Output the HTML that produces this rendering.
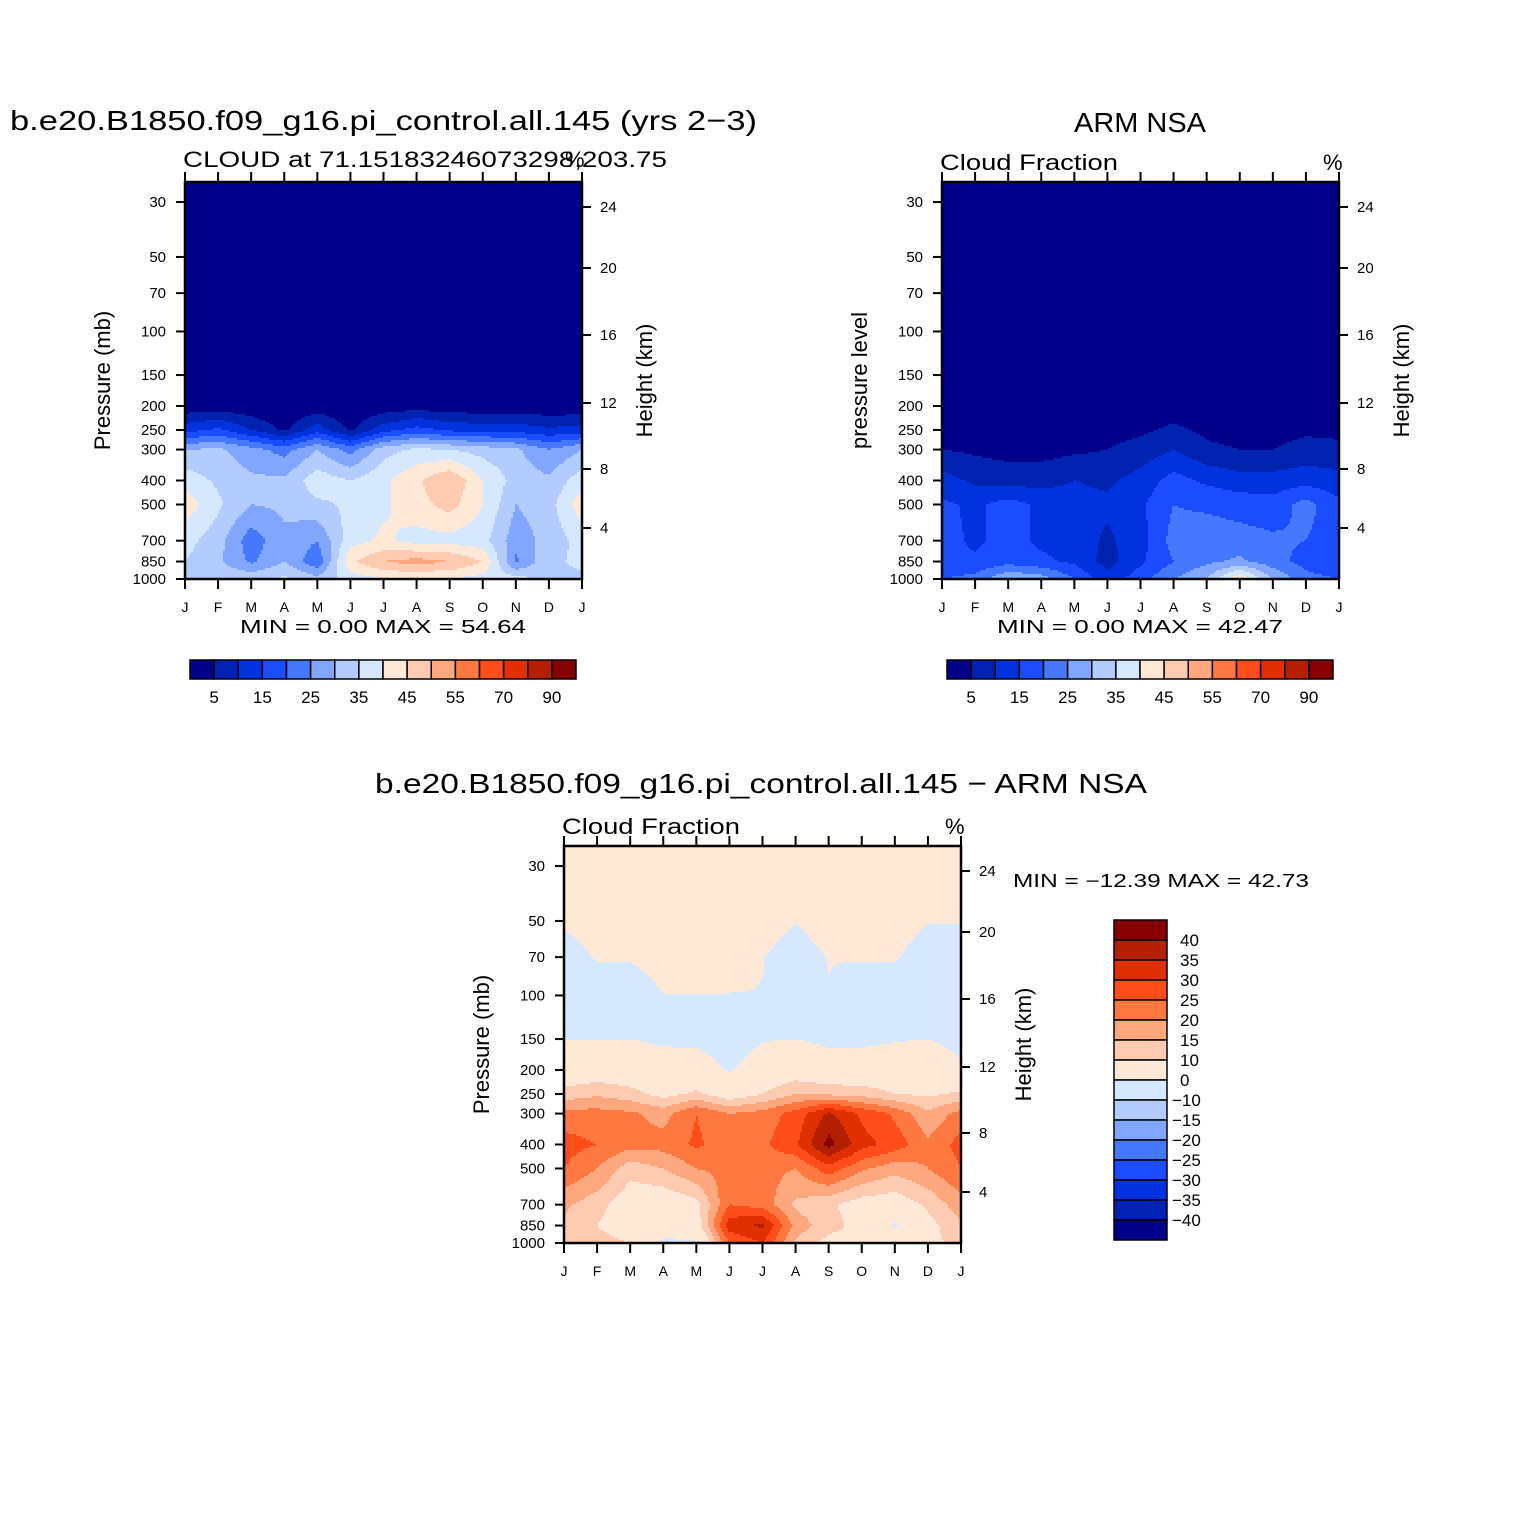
<!DOCTYPE html>
<html><head><meta charset="utf-8"><style>
html,body{margin:0;padding:0;background:#fff;}
svg text{font-family:"Liberation Sans",sans-serif;fill:#000;}
</style></head><body>
<svg id="fig" width="1524" height="1524" viewBox="0 0 1524 1524" xmlns="http://www.w3.org/2000/svg">
<rect x="0" y="0" width="1524" height="1524" fill="#fff"/>
<g id="p1"></g>
<g id="p2"></g>
<g id="p3"></g>
<g id="txt"></g>
</svg>
<script>
const months = ["J","F","M","A","M","J","J","A","S","O","N","D","J"];
const pressureLevels = [24,30,50,70,100,150,200,250,300,400,500,700,850,1000];
const pressureTicks = [30,50,70,100,150,200,250,300,400,500,700,850,1000];
const heightTicks = [24,20,16,12,8,4];
const heightTickY = [207,268,335,403,469,528];
const colors = ["#00008a","#0022b0","#0033dd","#1a4dff","#4677ff","#80a6ff","#b3ccff","#d6e8ff","#ffe9d6","#ffcbb0","#ffa880","#ff7840","#ff4e1a","#e03000","#b32000","#870000"];
const levelsAbs = [5,10,15,20,25,30,35,40,45,50,55,60,70,80,90];
const levelsDiff = [-40,-35,-30,-25,-20,-15,-10,0,10,15,20,25,30,35,40];
const absBarLabels = [5,15,25,35,45,55,70,90];
const diffBarLabels = ["40","35","30","25","20","15","10","0","\u221210","\u221215","\u221220","\u221225","\u221230","\u221235","\u221240"];

// model cloud fraction (%), rows follow pressureLevels, columns follow months
const modelCloud = [
 [0.5,0.5,0.5,0.5,0.5,0.5,0.5,0.5,0.5,0.5,0.5,0.5,0.5],
 [0.5,0.5,0.5,0.5,0.5,0.5,0.5,0.5,0.5,0.5,0.5,0.5,0.5],
 [0.5,0.5,0.5,0.5,0.5,0.5,0.5,0.5,0.5,0.5,0.5,0.5,0.5],
 [0.5,0.5,0.5,0.5,0.5,0.5,0.5,0.5,0.5,0.5,0.5,0.5,0.5],
 [0.5,0.5,0.5,0.5,0.5,0.5,0.5,0.5,0.5,0.5,0.5,0.5,0.5],
 [0.8,0.8,0.8,0.8,0.8,0.8,0.8,0.8,0.8,0.8,0.8,0.8,0.8],
 [1.5,2,1,0.5,1.5,0.5,1.5,2.5,1.5,1.5,1.5,1,1.2],
 [13,16,10,4,13,4,13,17,14,13,13,11,12],
 [30,31,27,23,30,23,33,36,35,33,31,25,30],
 [38,34,31,31,38,35,39,44,50,40,33,31,38],
 [43,36,30,31,34,36,39,43,47,40,30,33,43],
 [37,32,22,29,25,38,41,38,38,37,27,32,37],
 [35,31,24,30,21,44,50,52,50,45,24,34,36],
 [34,34,34,36,32,37,40,40,40,38,37,34,34]
];
// ARM NSA observed cloud fraction (%)
const obsCloud = [
 [1,1,1,1,1,1,1,1,1,1,1,1,1],
 [1,1,1,1,1,1,1,1,1,1,1,1,1],
 [1,1,1,1,1,1,1,1,1,1,1,1,1],
 [1,1,1,1,1,1,1,1,1,1,1,1,1],
 [1,1,1,1,1,1,1,1,1,1,1,1,1],
 [1,1,1,1,1,1,1,1,1,1,1,1,1],
 [1.5,1.5,1.5,1.5,1.5,1.5,2,2.5,2,1.5,1.5,2,2],
 [3,2,2,2,2,3,4,6,4,3,3,4,4],
 [5,4,3,3,4,5,7,10,6,5,5,7,6],
 [12,9,8,8,10,9,12,17,14,12,12,13,12],
 [16,14,17,14,12,11,14,20,19,18,17,22,16],
 [17,14,17,14,13,9,13,22,23,22,21,20,17],
 [15,16,18,16,14,8,14,20,24,26,22,18,15],
 [20,22,30,28,20,12,18,25,30,45,30,22,20]
];
// model minus obs difference (%)
const diffCloud = [
 [3,3,3,3,3,3,3,3,3,3,3,3,3],
 [3,3,3,3,3,3,3,3,3,3,3,3,3],
 [1,3,3,4,4,4,3,0.2,3,3,3,0.2,0.2],
 [-3,0.5,0.5,3,3,3,0.2,-3,0.2,0.5,0.5,-3,-3],
 [-4,-4,-4,-0.2,-0.2,-0.2,-0.2,-0.5,-0.2,-4,-4,-4,-4],
 [0,0,0,-1,-1.5,-4,-0.5,0,-1.5,-1.5,-0.5,0,-2],
 [5,6,5,3,4,-0.5,4,6,4,4,4,5,1],
 [12,14,12,8,11,6,10,15,14,13,10,9,11],
 [22,22,21,18,25,20,22,27,36,29,24,16,22],
 [27,25,22,22,26,22,24,29,42,32,28,21,27],
 [25,20,12,15,20,22,22,20,28,21,17,20,25],
 [16,12,6,5,8,25,23,14,11,7,6,11,18],
 [14,10,6,5,6,33,36,18,12,8,-1,8,14],
 [12,12,10,-2,-1,25,30,14,8,8,8,8,12]
];

const NS="http://www.w3.org/2000/svg";
function el(tag, attrs, parent){const e=document.createElementNS(NS,tag);for(const k in attrs)e.setAttribute(k,attrs[k]);parent.appendChild(e);return e;}
const PW=397, PH=397, LOGK=107.5;
function yOfP(y0,p){return y0+PH-LOGK*Math.log(1000/p);}
function xOfM(x0,m){return x0+m*PW/12;}
function colorIdx(v,lv){let i=0;while(i<lv.length&&v>=lv[i])i++;return i;}
function sample(data,m,p){
  const lp=Math.log(p);
  let k=0;while(k<pressureLevels.length-2&&Math.log(pressureLevels[k+1])<lp)k++;
  const l0=Math.log(pressureLevels[k]),l1=Math.log(pressureLevels[k+1]);
  let t=(lp-l0)/(l1-l0);t=Math.max(0,Math.min(1,t));
  let j=Math.floor(m);if(j>11)j=11;if(j<0)j=0;const s=Math.max(0,Math.min(1,m-j));
  const a=data[k][j]*(1-s)+data[k][j+1]*s, b=data[k+1][j]*(1-s)+data[k+1][j+1]*s;
  return a*(1-t)+b*t;
}
function drawPanel(g,x0,y0,data,lv,opt){
  const cs=2;
  const fill=el('g',{},g);
  
  
  for(let py=0;py<PH;py+=cs){
    const yc=Math.min(y0+py+cs/2,y0+PH-0.01);
    const p=1000*Math.exp(-(y0+PH-yc)/LOGK);
    const hh=Math.min(cs,PH-py);
    let runStart=0,runC=-1;
    for(let px=0;px<PW+cs;px+=cs){
      let c=-2;
      if(px<PW){const m=Math.min(px+cs/2,PW)/PW*12;c=colorIdx(sample(data,m,p),lv);}
      if(c!==runC){
        if(runC>=0){
          const endX=Math.min(px,PW);
          const r=el('rect',{x:x0+runStart,y:y0+py,width:endX-runStart+(endX<PW?0.6:0),height:hh+(py+cs<PH?0.6:0),fill:colors[runC]},fill);
          
          
        }
        runStart=px;runC=c;
      }
    }
  }
  const fr=el('rect',{x:x0,y:y0,width:PW,height:PH,fill:'none',stroke:'#000','stroke-width':2.5},g);
  
  
  months.forEach((mo,i)=>{
    const x=xOfM(x0,i);
    el('line',{x1:x,y1:y0,x2:x,y2:y0-10,stroke:'#000','stroke-width':2},g);
    el('line',{x1:x,y1:y0+PH,x2:x,y2:y0+PH+10,stroke:'#000','stroke-width':2},g);
    const t=el('text',{x:x,y:y0+PH+33,'font-size':14,'text-anchor':'middle'},g);t.textContent=mo;
    
    
  });
  pressureTicks.forEach(p=>{
    const y=yOfP(y0,p);
    el('line',{x1:x0,y1:y,x2:x0-9,y2:y,stroke:'#000','stroke-width':2},g);
    const t=el('text',{x:x0-19,y:y+5,'font-size':15,'text-anchor':'end'},g);t.textContent=p;
    
    
  });
  heightTicks.forEach((h,i)=>{
    const y=y0+heightTickY[i]-182;
    el('line',{x1:x0+PW,y1:y,x2:x0+PW+9,y2:y,stroke:'#000','stroke-width':2},g);
    const t=el('text',{x:x0+PW+18,y:y+5,'font-size':15},g);t.textContent=h;
    
    
  });
  const ly=y0+PH/2;
  const lt=el('text',{x:0,y:0,'font-size':22,'text-anchor':'middle',transform:`translate(${opt.lx},${ly}) rotate(-90)`},g);lt.textContent=opt.ylabel;
  
  
  const rt=el('text',{x:0,y:0,'font-size':22,'text-anchor':'middle',transform:`translate(${x0+PW+70},${ly}) rotate(-90)`},g);rt.textContent='Height (km)';
  
  
}
function hBar(g,x0,y0){
  const w=386/16;
  colors.forEach((c,i)=>{
    const r=el('rect',{x:x0+i*w,y:y0,width:w,height:19,fill:c,stroke:'#000','stroke-width':1.5},g);
    
    
  });
  absBarLabels.forEach((v,i)=>{
    const t=el('text',{x:x0+(1+2*i)*w,y:y0+43,'font-size':17,'text-anchor':'middle'},g);t.textContent=v;
    
    
  });
}
function txt(g,s,x,y,fs,anchor,len,name){
  const a={x:x,y:y,'font-size':fs,'text-anchor':anchor||'start'};
  if(len){a.textLength=len;a.lengthAdjust='spacingAndGlyphs';}
  const t=el('text',a,g);t.textContent=s;
  
  
  return t;
}
const p1=document.getElementById('p1'),p2=document.getElementById('p2'),p3=document.getElementById('p3'),T=document.getElementById('txt');
drawPanel(p1,185,182,modelCloud,levelsAbs,{lx:110,ylabel:'Pressure (mb)'});
drawPanel(p2,942,182,obsCloud,levelsAbs,{lx:867,ylabel:'pressure level'});
drawPanel(p3,564,846,diffCloud,levelsDiff,{lx:489,ylabel:'Pressure (mb)'});
hBar(p1,190,660);
hBar(p2,947,660);
for(let i=0;i<16;i++){
  const r=el('rect',{x:1114,y:920+i*20,width:53,height:20,fill:colors[15-i],stroke:'#000','stroke-width':1.5},p3);
  
  
}
diffBarLabels.forEach((s,i)=>{
  const t=el('text',{x:s.startsWith('\u2212')?1172:1180,y:946+i*20,'font-size':17},p3);t.textContent=s;
  
  
});
txt(T,'b.e20.B1850.f09_g16.pi_control.all.145 (yrs 2\u22123)',10,130,28,'start',747,'panel1-title');
txt(T,'CLOUD at 71.15183246073298,203.75',183,167,22,'start',484,'panel1-subtitle');
txt(T,'%',565,167,22,'start',null,'units-label');
txt(T,'MIN =    0.00 MAX =   54.64',240,633,18,'start',286,'min-max-text');
txt(T,'ARM NSA',1140,132,28,'middle',132,'panel2-title');
txt(T,'Cloud Fraction',940,170,22,'start',178,'panel2-subtitle');
txt(T,'%',1323,170,22,'start',null,'units-label');
txt(T,'MIN =    0.00 MAX =   42.47',997,633,18,'start',286,'min-max-text');
txt(T,'b.e20.B1850.f09_g16.pi_control.all.145 \u2212 ARM NSA',375,793,28,'start',772,'panel3-title');
txt(T,'Cloud Fraction',562,834,22,'start',178,'panel3-subtitle');
txt(T,'%',945,834,22,'start',null,'units-label');
txt(T,'MIN = \u221212.39 MAX =  42.73',1013,887,18,'start',296,'min-max-text');
</script>
</body></html>
